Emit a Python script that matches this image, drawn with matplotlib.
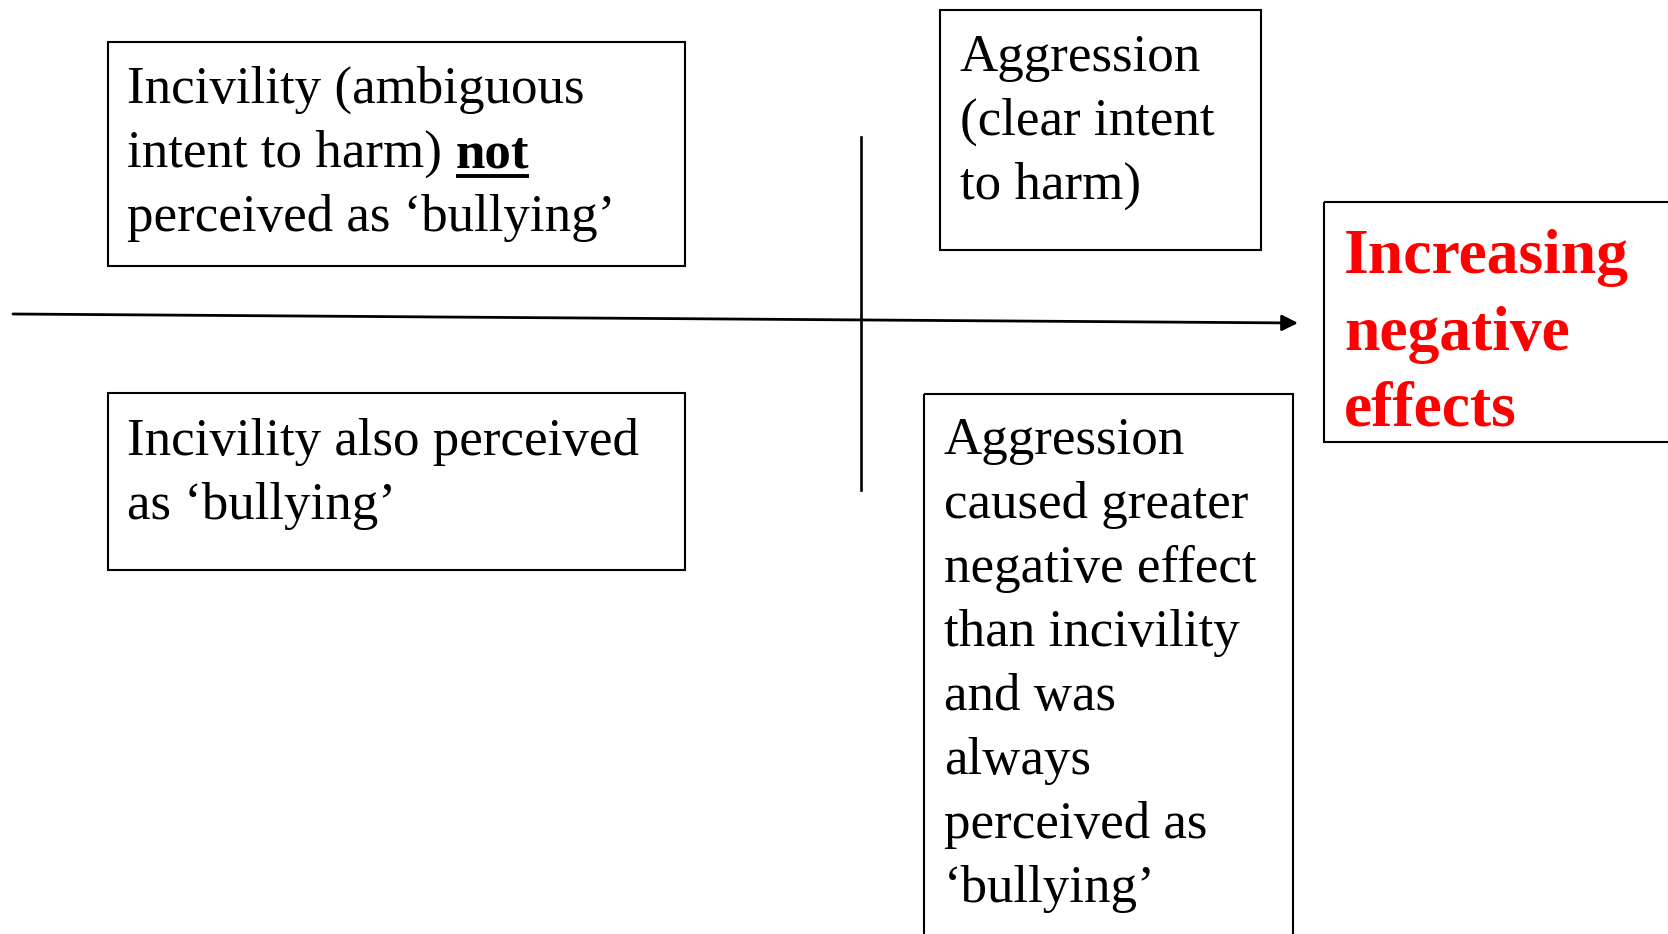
"""
plot.py
Diagrama: incivilidade vs agressão ao longo de um eixo de efeitos negativos.
"""

import matplotlib
matplotlib.use("Agg")
import matplotlib.pyplot as plt
from matplotlib.patches import Rectangle

# ─── Textos do diagrama ───────────────────────────────────────────
INCIVILITY_NOT_LINES  = ["Incivility (ambiguous", "intent to harm)", "perceived as ‘bullying’"]
INCIVILITY_NOT_WORD   = "not"
INCIVILITY_ALSO_LINES = ["Incivility also perceived", "as ‘bullying’"]
AGGRESSION_LINES      = ["Aggression", "(clear intent", "to harm)"]
AGGRESSION_MORE_LINES = ["Aggression", "caused greater", "negative effect",
                         "than incivility", "and was", "always",
                         "perceived as", "‘bullying’"]
OUTCOME_LINES         = ["Increasing", "negative", "effects"]

# ─── Layout (pixels, origem no canto superior esquerdo) ───────────
W, H = 1668, 934
FONT = ["Liberation Serif", "DejaVu Serif"]
FS_BODY, FS_RED = 38.2, 45.8
LINE_BODY, LINE_RED = 64, 76.5
LW = 1.5
RED = "#ff0000"

fig = plt.figure(figsize=(W / 100, H / 100), dpi=100)
ax = fig.add_axes([0, 0, 1, 1])
ax.set_xlim(0, W)
ax.set_ylim(H, 0)
ax.axis("off")


def box(x0, y0, x1, y1):
    ax.add_patch(Rectangle((x0, y0), x1 - x0, y1 - y0, fill=False,
                           edgecolor="black", linewidth=LW, clip_on=True))


def lines(x, y0, txt, step, **kw):
    out = []
    for i, s in enumerate(txt):
        out.append(ax.text(x, y0 + i * step, s, ha="left", va="baseline",
                           family=FONT, **kw))
    return out


# caixas
box(108.5, 41.5, 685, 266)
box(108.5, 393, 685, 570)
box(940.5, 9.5, 1261, 249.5)
box(924.5, 393.5, 1293, 980)
box(1324.5, 201.5, 1720, 441.5)

# eixo horizontal com seta e linha vertical
ax.annotate("", xy=(1298, 323), xytext=(13, 314),
            arrowprops=dict(arrowstyle="-|>", color="black", lw=2.0,
                            mutation_scale=24, shrinkA=0, shrinkB=0))
ax.plot([860.6, 860.6], [137, 490], color="black", lw=1.9)

# textos
t1 = lines(127, 103, INCIVILITY_NOT_LINES, LINE_BODY, fontsize=FS_BODY)
lines(127, 455, INCIVILITY_ALSO_LINES, LINE_BODY, fontsize=FS_BODY)
lines(960, 71, AGGRESSION_LINES, LINE_BODY, fontsize=FS_BODY)
lines(944, 454, AGGRESSION_MORE_LINES, LINE_BODY, fontsize=FS_BODY)
lines(1344, 273, OUTCOME_LINES, LINE_RED, fontsize=FS_RED,
      color=RED, fontweight="bold")

# palavra "not" em negrito e sublinhada logo após a 2ª linha
fig.canvas.draw()
inv = ax.transData.inverted()
bb = t1[1].get_window_extent()
x_end = inv.transform((bb.x1, bb.y0))[0]
base_y = 103 + LINE_BODY
tn = ax.text(x_end + 14, base_y, INCIVILITY_NOT_WORD, ha="left", va="baseline",
             family=FONT, fontsize=FS_BODY, fontweight="bold")
fig.canvas.draw()
bn = tn.get_window_extent()
nx0 = inv.transform((bn.x0, bn.y0))[0]
nx1 = inv.transform((bn.x1, bn.y0))[0]
ax.plot([nx0, nx1], [base_y + 9, base_y + 9], color="black", lw=2.8,
        solid_capstyle="butt")

fig.savefig("out.png", dpi=100)
plt.close(fig)
